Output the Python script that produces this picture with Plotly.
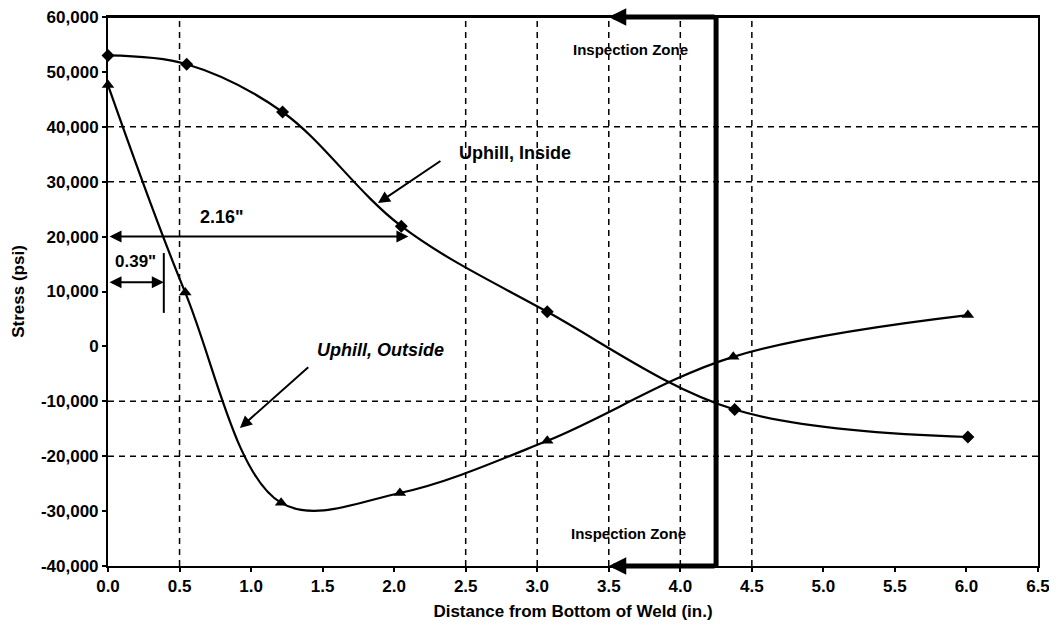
import plotly.graph_objects as go

# ---- data ----
x_inside = [0.0, 0.55, 1.22, 2.05, 3.07, 4.38, 6.01]
y_inside = [53000, 51400, 42700, 21900, 6300, -11500, -16500]

x_outside = [0.0, 0.54, 1.21, 2.04, 3.07, 4.37, 6.01]
y_outside = [47600, 9800, -28500, -26700, -17200, -1900, 5700]

x_ticks = [0.0, 0.5, 1.0, 1.5, 2.0, 2.5, 3.0, 3.5, 4.0, 4.5, 5.0, 5.5, 6.0, 6.5]
y_ticks = [60000, 50000, 40000, 30000, 20000, 10000, 0, -10000, -20000, -30000, -40000]
x_grid = [0.5, 2.5, 3.0, 3.5, 4.0, 4.5]
y_grid = [40000, 30000, -10000, -20000]

zone_x = 4.25
zone_tip = 3.5
dim_216 = 2.1
dim_039 = 0.39

FONT = "Liberation Sans, Arial, sans-serif"

fig = go.Figure()
fig.add_trace(go.Scatter(
    x=x_inside, y=y_inside, mode="lines+markers", name="Uphill, Inside",
    line=dict(color="black", width=2.2, shape="spline", smoothing=1.0),
    marker=dict(symbol="diamond", size=10, color="black")))
fig.add_trace(go.Scatter(
    x=x_outside, y=y_outside, mode="lines+markers", name="Uphill, Outside",
    line=dict(color="black", width=2.2, shape="spline", smoothing=1.0),
    marker=dict(symbol="triangle-up", size=11, color="black")))

shapes = []
for gx in x_grid:
    shapes.append(dict(type="line", xref="x", yref="y", x0=gx, x1=gx, y0=-40000, y1=60000,
                       line=dict(color="black", width=1.5, dash="6px,5px"), layer="below"))
for gy in y_grid:
    shapes.append(dict(type="line", xref="x", yref="y", x0=0, x1=6.5, y0=gy, y1=gy,
                       line=dict(color="black", width=1.5, dash="6px,5px"), layer="below"))
# top border of the plot frame
shapes.append(dict(type="line", xref="paper", yref="paper", x0=0, x1=1, y0=1, y1=1,
                   line=dict(color="black", width=2)))
# inspection zone boundary
shapes.append(dict(type="line", xref="x", yref="y", x0=zone_x, x1=zone_x, y0=-40000, y1=60000,
                   line=dict(color="black", width=5)))
# 0.39" extension line
shapes.append(dict(type="line", xref="x", yref="y", x0=dim_039, x1=dim_039, y0=6100, y1=17000,
                   line=dict(color="black", width=2)))
fig.update_layout(shapes=shapes)

ann = []
# inspection zone arrows
for yy in (60000, -40000):
    ann.append(dict(x=zone_tip, y=yy, ax=zone_x, ay=yy, xref="x", yref="y", axref="x", ayref="y",
                    text="", showarrow=True, arrowhead=2, arrowsize=0.7, arrowwidth=5,
                    arrowcolor="black"))
ann.append(dict(x=3.655, y=54000, xref="x", yref="y", text="<b>Inspection Zone</b>",
                showarrow=False, font=dict(family=FONT, size=15, color="black")))
ann.append(dict(x=3.64, y=-34000, xref="x", yref="y", text="<b>Inspection Zone</b>",
                showarrow=False, font=dict(family=FONT, size=15, color="black")))
# 2.16" dimension
ann.append(dict(x=dim_216, y=20000, ax=0, ay=20000, xref="x", yref="y", axref="x", ayref="y",
                text="", showarrow=True, arrowhead=2, arrowside="end+start", arrowsize=1.2,
                arrowwidth=2, arrowcolor="black"))
ann.append(dict(x=0.797, y=23600, xref="x", yref="y", text="<b>2.16\"</b>",
                showarrow=False, font=dict(family=FONT, size=18, color="black")))
# 0.39" dimension
ann.append(dict(x=dim_039, y=11700, ax=0, ay=11700, xref="x", yref="y", axref="x", ayref="y",
                text="", showarrow=True, arrowhead=2, arrowside="end+start", arrowsize=1.2,
                arrowwidth=2, arrowcolor="black"))
ann.append(dict(x=0.189, y=15400, xref="x", yref="y", text="<b>0.39\"</b>",
                showarrow=False, font=dict(family=FONT, size=17, color="black")))
# series labels
ann.append(dict(x=2.845, y=35200, xref="x", yref="y", text="<b>Uphill, Inside</b>",
                showarrow=False, font=dict(family=FONT, size=18, color="black")))
ann.append(dict(x=1.887, y=26100, ax=2.334, ay=33950, xref="x", yref="y", axref="x", ayref="y",
                text="", showarrow=True, arrowhead=2, arrowsize=1.2, arrowwidth=2,
                arrowcolor="black"))
ann.append(dict(x=1.908, y=-660, xref="x", yref="y", text="<b><i>Uphill, Outside</i></b>",
                showarrow=False, font=dict(family=FONT, size=18, color="black")))
ann.append(dict(x=0.922, y=-14860, ax=1.41, ay=-3570, xref="x", yref="y", axref="x", ayref="y",
                text="", showarrow=True, arrowhead=2, arrowsize=1.2, arrowwidth=2,
                arrowcolor="black"))
fig.update_layout(annotations=ann)

fig.update_xaxes(range=[0, 6.5], tickvals=x_ticks, ticktext=[f"<b>{v:.1f}</b>" for v in x_ticks],
                 showgrid=False, zeroline=False, showline=True, linecolor="black", linewidth=2,
                 mirror=True, ticks="outside", ticklen=4, tickcolor="black", tickwidth=1.5,
                 automargin=False, ticklabeloverflow="allow",
                 tickfont=dict(family=FONT, size=17, color="black"),
                 title=dict(text="<b>Distance from Bottom of Weld (in.)</b>", standoff=10,
                            font=dict(family=FONT, size=17, color="black")))
fig.update_yaxes(range=[-40000, 60000], tickvals=y_ticks,
                 ticktext=[f"<b>{v:,}</b>" for v in y_ticks],
                 showgrid=False, zeroline=False, showline=True, linecolor="black", linewidth=2,
                 mirror=True, ticks="outside", ticklen=4, tickcolor="black", tickwidth=1.5,
                 automargin=False, ticklabeloverflow="allow",
                 tickfont=dict(family=FONT, size=17, color="black"),
                 title=dict(text="<b>Stress (psi)</b>", standoff=12,
                            font=dict(family=FONT, size=17, color="black")))
# page body has an 8px margin: size the figure so the plot area lands where the reference has it
fig.update_layout(
    width=1049, height=627,
    margin=dict(l=100, r=19, t=9, b=69),
    paper_bgcolor="white", plot_bgcolor="white",
    showlegend=False,
    font=dict(family=FONT, color="black"),
)
fig.update_traces(cliponaxis=False)
fig.write_html("out.html")
